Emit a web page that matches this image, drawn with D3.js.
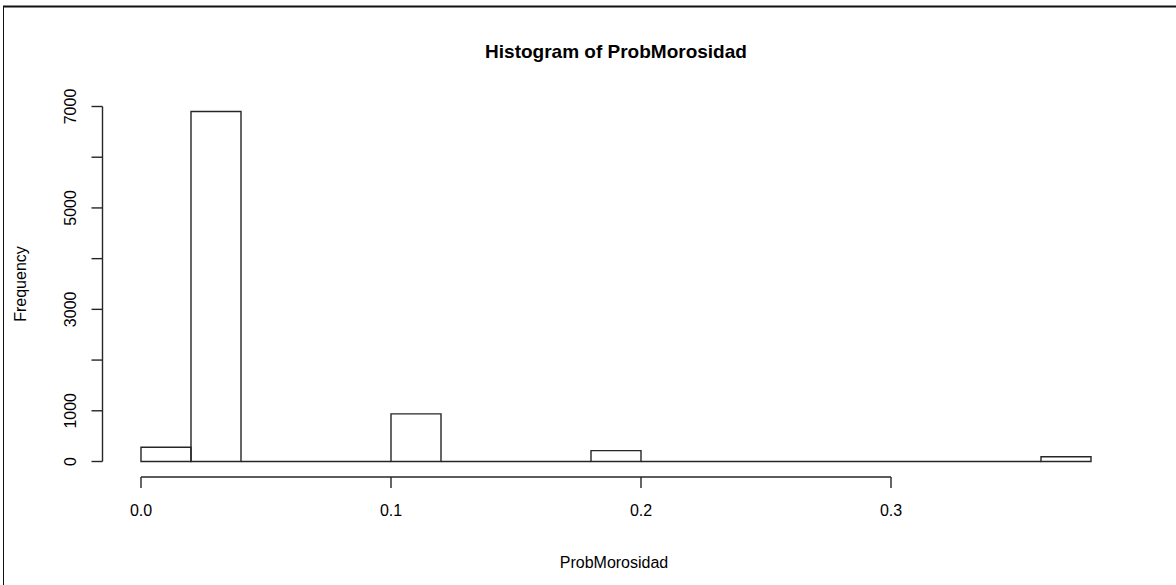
<!DOCTYPE html>
<html>
<head>
<meta charset="utf-8">
<script src="https://cdn.jsdelivr.net/npm/d3@7"></script>
<style>
  html, body { margin: 0; padding: 0; background: #fff; }
  svg { display: block; }
  text { font-family: "Liberation Sans", Arial, sans-serif; fill: #000; }
</style>
</head>
<body>
<svg id="chart" width="1176" height="585"></svg>
<script>
// ---- data ----
const binStarts = [0.00,0.02,0.04,0.06,0.08,0.10,0.12,0.14,0.16,0.18,0.20,0.22,0.24,0.26,0.28,0.30,0.32,0.34,0.36];
const binWidth = 0.02;
const counts    = [280, 6900, 0, 0, 0, 940, 0, 0, 0, 215, 0, 0, 0, 0, 0, 0, 0, 0, 95];
const xTicks = [0.0, 0.1, 0.2, 0.3];
const xTickLabels = ["0.0", "0.1", "0.2", "0.3"];
const yTicks = [0, 1000, 2000, 3000, 4000, 5000, 6000, 7000];
const yTickLabels = ["0", "1000", "", "3000", "", "5000", "", "7000"];
const title = "Histogram of ProbMorosidad";
const xTitle = "ProbMorosidad";
const yTitle = "Frequency";

// ---- layout ----
const svg = d3.select("#chart");
const x = d3.scaleLinear().domain([0, 0.38]).range([141, 1091]);
const y = d3.scaleLinear().domain([0, 7000]).range([461.5, 106.5]);
const xAxisY = 477;
const yAxisX = 102.5;
const strokeCol = "#262626";

// outer frame (top and left only, as in screenshot)
svg.append("line").attr("x1", 3).attr("x2", 1176).attr("y1", 6.5).attr("y2", 6.5)
  .attr("stroke", "#111").attr("stroke-width", 2);
svg.append("line").attr("x1", 3.5).attr("x2", 3.5).attr("y1", 6).attr("y2", 585)
  .attr("stroke", "#111").attr("stroke-width", 1);

// bars (drawn as paths so zero-height bins still show a line)
svg.append("g").selectAll("path").data(binStarts).join("path")
  .attr("d", (d, i) => {
    const p = d3.path();
    const x0 = x(d), x1 = x(d + binWidth), y0 = y(0), y1 = y(counts[i]);
    p.moveTo(x0, y0); p.lineTo(x0, y1); p.lineTo(x1, y1); p.lineTo(x1, y0); p.closePath();
    return p.toString();
  })
  .attr("fill", "none").attr("stroke", strokeCol).attr("stroke-width", 1.4);

// x axis
const gx = svg.append("g").attr("transform", `translate(0,${xAxisY})`);
gx.append("line").attr("x1", x(0)).attr("x2", x(0.3)).attr("y1", 0).attr("y2", 0)
  .attr("stroke", strokeCol).attr("stroke-width", 1.4);
gx.selectAll("line.tk").data(xTicks).join("line").attr("class", "tk")
  .attr("x1", d => x(d)).attr("x2", d => x(d)).attr("y1", 0).attr("y2", 11)
  .attr("stroke", strokeCol).attr("stroke-width", 1.4);
gx.selectAll("text").data(xTicks).join("text")
  .attr("x", d => x(d)).attr("y", 39)
  .attr("text-anchor", "middle").attr("font-size", 16)
  .text((d, i) => xTickLabels[i]);

// y axis
const gy = svg.append("g").attr("transform", `translate(${yAxisX},0)`);
gy.append("line").attr("x1", 0).attr("x2", 0).attr("y1", y(0)).attr("y2", y(7000))
  .attr("stroke", strokeCol).attr("stroke-width", 1.4);
gy.selectAll("line.tk").data(yTicks).join("line").attr("class", "tk")
  .attr("x1", 0).attr("x2", -11).attr("y1", d => y(d)).attr("y2", d => y(d))
  .attr("stroke", strokeCol).attr("stroke-width", 1.4);
gy.selectAll("text").data(yTicks).join("text")
  .attr("transform", d => `translate(-27,${y(d)}) rotate(-90)`)
  .attr("text-anchor", "middle").attr("font-size", 16)
  .text((d, i) => yTickLabels[i]);

// titles
svg.append("text").attr("x", 616).attr("y", 58)
  .attr("text-anchor", "middle").attr("font-size", 19).attr("font-weight", "bold")
  .text(title);
svg.append("text").attr("x", 614).attr("y", 568)
  .attr("text-anchor", "middle").attr("font-size", 16)
  .text(xTitle);
svg.append("text").attr("transform", `translate(25.5,${(y(0) + y(7000)) / 2}) rotate(-90)`)
  .attr("text-anchor", "middle").attr("font-size", 16)
  .text(yTitle);
</script>
</body>
</html>
